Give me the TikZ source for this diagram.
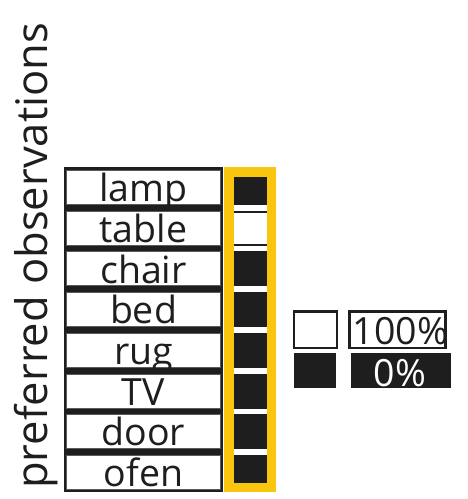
\documentclass[tikz,border=0pt]{standalone}
\usepackage{fontspec}
\setmainfont{Open Sans}
\definecolor{ink}{HTML}{1E1E1E}
\definecolor{gold}{HTML}{F9C50E}
\definecolor{edge}{HTML}{5A5A5A}
\begin{document}
\begin{tikzpicture}[x=1pt,y=-1pt,
  labbox/.style={draw=edge,line width=1pt,fill=white,minimum width=154pt,minimum height=34pt,inner sep=0pt},
  labtext/.style={anchor=base,inner sep=0pt,font=\fontsize{37.5}{40}\selectfont,text=ink},
  darkcell/.style={fill=ink,draw=none,minimum width=52pt,minimum height=35pt,inner sep=0pt},
  lightcell/.style={fill=white,draw=ink,line width=2pt,minimum width=50pt,minimum height=33pt,inner sep=0pt},
  keybox/.style={draw=ink,line width=2.6pt,fill=white,inner sep=0pt},
  keydark/.style={fill=ink,draw=none,inner sep=0pt}]
\useasboundingbox (0,0) rectangle (468,499);
% axis label
\node[rotate=90,anchor=base west,inner sep=0pt,font=\fontsize{43.5}{46}\selectfont,text=ink] (ylab) at (47.5,489) {preferred observations};
% label column
\fill[ink] (64,167) rectangle (223,492);
\foreach \lab [count=\i from 0] in {lamp,table,chair,bed,rug,TV,door,ofen} {
  \pgfmathsetmacro\ytop{170+40.7*\i}
  \node[labbox] (box\i) at (143.5,\ytop+17.5) {};
  \begin{scope}
    \clip (66.5,\ytop+0.5) rectangle (220.5,\ytop+34.5);
    \node[labtext] (txt\i) at (143.5,\ytop+31.7) {\lab};
  \end{scope}
}
% value column
\foreach \i in {0,2,3,4,5,6,7} {
  \pgfmathsetmacro\ytop{170+40.7*\i}
  \node[darkcell] (cell\i) at (250,\ytop+17.5) {};
}
\node[lightcell] (cell1) at (250,170+40.7+17.5) {};
\draw[gold,line width=9.5pt] (228.75,171.75) rectangle (271.25,487.25);
% legend
\node[keybox,minimum width=43pt,minimum height=36.5pt] (kw) at (315.5,329.6) {};
\node[keydark,minimum width=42pt,minimum height=34.5pt] (kb) at (315,370.5) {};
\node[keybox,minimum width=96pt,minimum height=36.5pt] (kwt) at (397.3,329.6) {};
\node[labtext] (t100) at (400.5,344.6) {100\%};
\node[keydark,minimum width=100pt,minimum height=34.5pt] (kbt) at (401,370.5) {};
\begin{scope}
  \clip (351,353.3) rectangle (451,387.7);
  \node[labtext,text=white] (t0) at (400,386.5) {0\%};
\end{scope}
\end{tikzpicture}
\end{document}
